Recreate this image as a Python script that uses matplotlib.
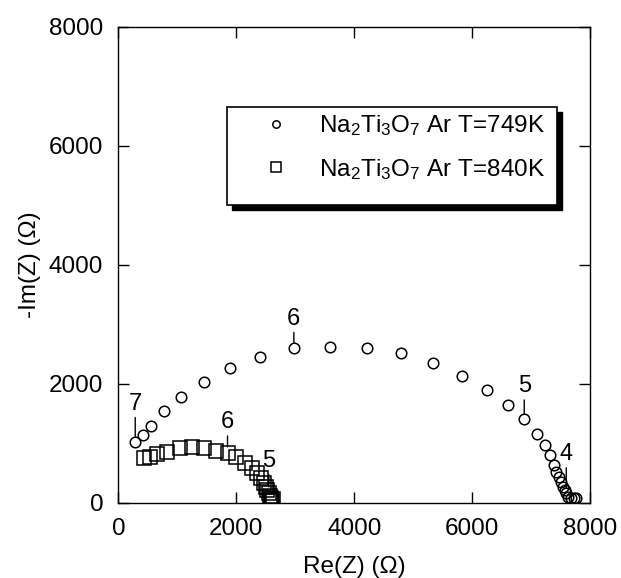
import numpy as np
import matplotlib
matplotlib.use('Agg')
import matplotlib.pyplot as plt
from matplotlib.patches import Rectangle

plt.rcParams['font.family'] = 'Liberation Sans'
plt.rcParams['mathtext.fontset'] = 'custom'
plt.rcParams['mathtext.rm'] = 'Liberation Sans'
plt.rcParams['mathtext.it'] = 'Liberation Sans'

# Nyquist data, Na2Ti3O7 in Ar (ohm)
re_749 = [284, 415, 551, 766, 1061, 1446, 1888, 2409, 2976, 3587, 4211, 4789, 5345, 5821,
          6251, 6603, 6885, 7110, 7229, 7314, 7389, 7428, 7467, 7501, 7542, 7569, 7598,
          7627, 7671, 7729, 7768]
im_749 = [1030, 1142, 1299, 1551, 1786, 2038, 2263, 2458, 2599, 2626, 2609, 2525, 2357, 2134,
          1898, 1646, 1406, 1165, 975, 807, 639, 526, 442, 357, 274, 219, 163,
          106, 79, 79, 89]
re_840 = [437, 530, 650, 823, 1038, 1248, 1458, 1662, 1850, 2000, 2155, 2269, 2354, 2422,
          2466, 2495, 2524, 2552, 2569, 2580, 2592, 2610, 2630]
im_840 = [760, 775, 815, 862, 919, 936, 919, 879, 835, 770, 667, 583, 499, 415,
          331, 274, 219, 163, 118, 79, 50, 40, 70]

# log10(f) marks: (label, point index, text offset in pt)
marks_749 = [('7', 0, 23), ('6', 8, 17), ('5', 16, 19.5), ('4', 26, 24)]
marks_840 = [('6', 8, 18), ('5', 17, 19)]

ticks = [0, 2000, 4000, 6000, 8000]

fig = plt.figure(figsize=(6.21, 5.78), dpi=100)
ax = fig.add_axes([0.1908, 0.1298, 0.7592, 0.824])

ax.plot(re_749, im_749, ls='none', marker='o', ms=7.6, mfc='none', mec='k', mew=1.1,
        label=r'Na$_2$Ti$_3$O$_7$ Ar T=749K')
ax.plot(re_840, im_840, ls='none', marker='s', ms=9.4, mfc='none', mec='k', mew=1.1,
        label=r'Na$_2$Ti$_3$O$_7$ Ar T=840K')

for txt, i, dy in marks_749:
    ax.annotate(txt, xy=(re_749[i], im_749[i]), xytext=(0, dy), textcoords='offset points',
                ha='center', va='baseline', fontsize=17,
                arrowprops=dict(arrowstyle='-', lw=1.0, color='k', shrinkA=0, shrinkB=3.8))
for txt, i, dy in marks_840:
    ax.annotate(txt, xy=(re_840[i], im_840[i]), xytext=(0, dy), textcoords='offset points',
                ha='center', va='baseline', fontsize=17,
                arrowprops=dict(arrowstyle='-', lw=1.0, color='k', shrinkA=0, shrinkB=4.6))

ax.set_xlim(0, 8000)
ax.set_ylim(0, 8000)
ax.set_xticks(ticks)
ax.set_yticks(ticks)
ax.tick_params(direction='in', length=8, width=1.0, top=True, right=True,
               labelsize=17.5, pad=11)
for s in ax.spines.values():
    s.set_linewidth(1.0)
ax.set_xlabel('Re(Z) (Ω)', fontsize=17.5, labelpad=11)
ax.set_ylabel('-Im(Z) (Ω)', fontsize=17.5, labelpad=6)

# boxed legend with solid drop shadow
x0, y0, w, h = 0.2295, 0.6257, 0.7005, 0.2063
ax.add_patch(Rectangle((x0 + 0.0115, y0 - 0.0115), w, h, transform=ax.transAxes,
                       facecolor='k', edgecolor='k', lw=1.0, zorder=4, clip_on=False))
ax.add_patch(Rectangle((x0, y0), w, h, transform=ax.transAxes,
                       facecolor='white', edgecolor='k', lw=1.2, zorder=5, clip_on=False))
leg = ax.legend(loc='center left', bbox_to_anchor=(0.3073, 0.7464), frameon=False,
                fontsize=17.5, markerscale=0.7, handlelength=1.0, handletextpad=1.3,
                borderpad=0, borderaxespad=0, labelspacing=0.75)
leg.set_zorder(6)

fig.savefig('out.png', dpi=100)
